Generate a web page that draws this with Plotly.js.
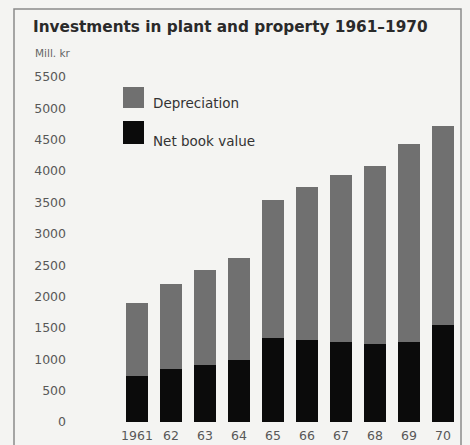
<!DOCTYPE html>
<html>
<head>
<meta charset="utf-8">
<script src="https://cdn.plot.ly/plotly-3.0.1.min.js"></script>
<style>
html,body{margin:0;padding:0;background:#f4f4f2;}
#chart{width:470px;height:445px;}
</style>
</head>
<body>
<div id="chart"></div>
<script>
const years = ['1961','62','63','64','65','66','67','68','69','70'];
const netBookValue = [730, 845, 910, 990, 1335, 1310, 1270, 1245, 1280, 1545];
const totalValue = [1900, 2200, 2425, 2620, 3540, 3740, 3940, 4080, 4430, 4720];
const depreciation = totalValue.map((t, i) => t - netBookValue[i]);
const yTicks = [0,500,1000,1500,2000,2500,3000,3500,4000,4500,5000,5500];

const W = 470, H = 445;
const M = {l: 70, r: 10, t: 77, b: 23};
const PW = W - M.l - M.r, PH = H - M.t - M.b;
const px = x => (x - M.l) / PW;
const py = y => (H - M.b - y) / PH;
const FONT = 'DejaVu Sans, Verdana, sans-serif';

const xPos = years.map((_, i) => i);

const traces = [
  {type: 'bar', name: 'Net book value', x: xPos, y: netBookValue,
   marker: {color: '#0b0b0b'}, width: 0.65, hoverinfo: 'y'},
  {type: 'bar', name: 'Depreciation', x: xPos, y: depreciation,
   marker: {color: '#707070'}, width: 0.65, hoverinfo: 'y'}
];

const layout = {
  width: W, height: H,
  margin: M,
  paper_bgcolor: '#f4f4f2',
  plot_bgcolor: 'rgba(0,0,0,0)',
  barmode: 'stack',
  showlegend: false,
  font: {family: FONT, color: '#555555'},
  title: {
    text: 'Investments in plant and property 1961\u20131970',
    x: 33 / W, xanchor: 'left', xref: 'container',
    y: 1 - 27 / H, yanchor: 'middle', yref: 'container',
    font: {size: 15.3, color: '#2a2a2a', family: FONT, weight: 'bold'}
  },
  xaxis: {
    range: [-1.97, 9.5],
    tickmode: 'array', tickvals: xPos, ticktext: years,
    showgrid: false, zeroline: false, showline: false, ticks: '',
    tickfont: {size: 12.5, color: '#585858', family: FONT},
    ticklabelstandoff: 4,
    fixedrange: true
  },
  yaxis: {
    range: [0, 5500],
    tickmode: 'array', tickvals: yTicks,
    showgrid: false, zeroline: false, showline: false, ticks: '',
    tickfont: {size: 12.5, color: '#585858', family: FONT},
    ticklabelstandoff: 3,
    fixedrange: true
  },
  shapes: [
    {type: 'rect', xref: 'paper', yref: 'paper',
     x0: px(14), x1: px(461), y0: py(9), y1: py(450),
     line: {color: '#8a8a8a', width: 1.5}, fillcolor: 'rgba(0,0,0,0)'},
    {type: 'rect', xref: 'paper', yref: 'paper',
     x0: px(123), x1: px(144), y0: py(108), y1: py(87),
     line: {width: 0}, fillcolor: '#707070'},
    {type: 'rect', xref: 'paper', yref: 'paper',
     x0: px(123), x1: px(144), y0: py(144), y1: py(121),
     line: {width: 0}, fillcolor: '#0b0b0b'}
  ],
  annotations: [
    {text: 'Mill. kr', xref: 'paper', yref: 'paper', x: px(33), y: py(53),
     xanchor: 'left', yanchor: 'middle', showarrow: false,
     font: {size: 10.5, color: '#666666', family: FONT}},
    {text: 'Depreciation', xref: 'paper', yref: 'paper', x: px(151), y: py(103),
     xanchor: 'left', yanchor: 'middle', showarrow: false,
     font: {size: 13.5, color: '#333333', family: FONT}},
    {text: 'Net book value', xref: 'paper', yref: 'paper', x: px(151), y: py(141),
     xanchor: 'left', yanchor: 'middle', showarrow: false,
     font: {size: 13.5, color: '#333333', family: FONT}}
  ]
};

Plotly.newPlot('chart', traces, layout, {displayModeBar: false, staticPlot: true});
</script>
</body>
</html>
